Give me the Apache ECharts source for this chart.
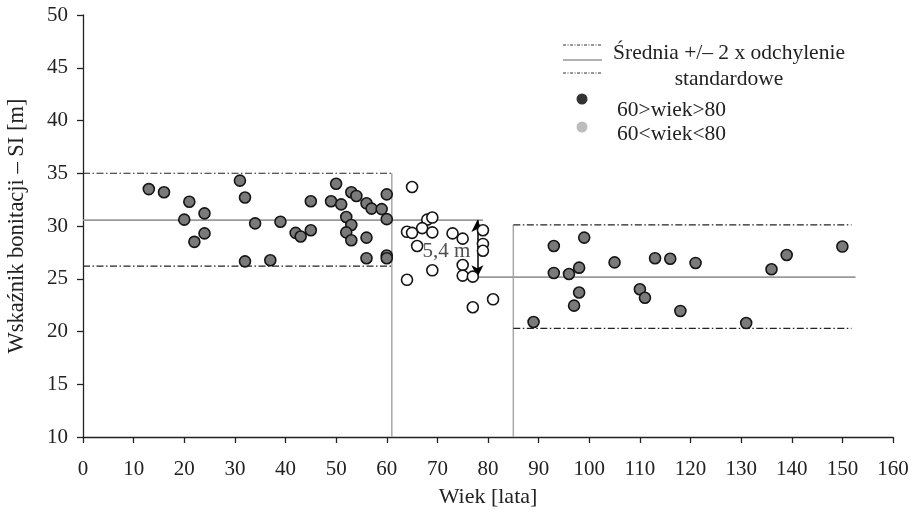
<!DOCTYPE html>
<html>
<head>
<meta charset="utf-8">
<script src="https://cdn.jsdelivr.net/npm/echarts@6/dist/echarts.min.js"></script>
<style>html,body{margin:0;padding:0;background:#fff}#c{width:914px;height:515px}</style>
</head>
<body>
<div id="c"></div>
<script>
// ---- data ----
const darkLeft = [[13,33.5],[16,33.2],[21,32.3],[20,30.6],[24,31.2],[22,28.5],[24,29.3],[31,34.3],[32,32.7],[34,30.25],[32,26.65],[37,26.75],[39,30.4],[42,29.35],[43,29.0],[45,29.6],[45,32.35],[49,32.35],[50,34.0],[51,32.05],[53,33.2],[54,32.85],[52,30.85],[53,30.1],[52,29.4],[53,28.65],[56,32.15],[57,31.65],[59,31.6],[60,33.0],[60,30.65],[56,28.9],[56,26.95],[60,27.2],[60,26.95]];
const darkRight = [[89,20.9],[93,28.1],[93,25.55],[96,25.45],[98,26.05],[99,28.9],[98,23.7],[97,22.45],[105,26.55],[110,24.0],[111,23.2],[113,26.95],[116,26.9],[118,21.95],[121,26.5],[131,20.8],[136,25.9],[139,27.25],[150,28.05]];
const lightPoints = [[65,33.7],[68,30.6],[69,30.8],[67,29.8],[64,29.45],[65,29.35],[69,29.4],[66,28.1],[69,25.8],[64,24.9],[73,29.3],[75,28.8],[75,26.3],[75,25.3],[77,25.2],[79,29.6],[79,28.3],[79,27.65],[77,22.3],[81,23.05]];
const seriesNames = ['60>wiek>80','60<wiek<80'];
const splitAges = [61, 85];
const leftStats = {mean:30.56, upper:35.0, lower:26.2, from:0, meanTo:79};
const rightStats = {mean:25.15, upper:30.1, lower:20.3, meanFrom:78, meanTo:152.6, sdTo:151.8};
const arrowAge = 77.9;
const diffLabel = '5,4 m';
const diffLabelPos = [71.8, 27.55];
const xTickValues = {min:0, max:160, step:10};
const yTickValues = {min:10, max:50, step:5};
const xTitle = 'Wiek [lata]';
const yTitle = 'Wskaźnik bonitacji – SI [m]';
const legendLines = ['Średnia +/– 2 x odchylenie', 'standardowe'];

// ---- chart ----
const FONT = '"Liberation Serif", "DejaVu Serif", serif';
const chart = echarts.init(document.getElementById('c'), null, {renderer:'canvas'});
const dashDot = {color:'#222', width:1.2, type:[7,2.5,1.5,2.5]};
const meanStyle = {color:'#9a9a9a', width:1.6, type:'solid'};
const vertStyle = {color:'#a8a8a8', width:1.5, type:'solid'};
function seg(p1, p2, style, z){
  return {type:'line', data:[p1,p2], showSymbol:false, symbol:'none', silent:true, animation:false,
    lineStyle:style, z:z||1};
}
const series = [
  seg([leftStats.from,leftStats.upper],[splitAges[0],leftStats.upper],dashDot),
  seg([leftStats.from,leftStats.lower],[splitAges[0],leftStats.lower],dashDot),
  seg([leftStats.from,leftStats.mean],[leftStats.meanTo,leftStats.mean],meanStyle),
  seg([splitAges[0],yTickValues.min],[splitAges[0],leftStats.upper],vertStyle),
  seg([splitAges[1],yTickValues.min],[splitAges[1],rightStats.upper],vertStyle),
  seg([rightStats.meanFrom,rightStats.mean],[rightStats.meanTo,rightStats.mean],meanStyle),
  seg([splitAges[1],rightStats.upper],[rightStats.sdTo,rightStats.upper],dashDot),
  seg([splitAges[1],rightStats.lower],[rightStats.sdTo,rightStats.lower],dashDot),
  {type:'line', data:[], silent:true, z:3,
    markLine:{silent:true, symbol:['arrow','arrow'], symbolSize:[9,12], label:{show:false},
      lineStyle:{color:'#000', width:1.5, type:'solid'},
      data:[[{coord:[arrowAge,leftStats.mean]},{coord:[arrowAge,rightStats.mean]}]]}},
  {name:seriesNames[0], type:'scatter', data:darkLeft.concat(darkRight), symbol:'circle', symbolSize:11, z:5,
    itemStyle:{color:'#7a7a7a', borderColor:'#151515', borderWidth:1.6, opacity:1}},
  {name:seriesNames[1], type:'scatter', data:lightPoints, symbol:'circle', symbolSize:11, z:5,
    itemStyle:{color:'#ffffff', borderColor:'#151515', borderWidth:1.6, opacity:1}},
  {type:'scatter', data:[diffLabelPos], symbolSize:0, silent:true, z:6,
    label:{show:true, position:'inside', formatter:diffLabel, fontFamily:FONT, fontSize:21, color:'#222'}}
];
const option = {
  animation:false,
  backgroundColor:'#fff',
  grid:{left:83, right:21, top:15, bottom:78, containLabel:false, outerBoundsMode:'none'},
  xAxis:{type:'value', min:xTickValues.min, max:xTickValues.max, interval:xTickValues.step,
    name:xTitle, nameLocation:'middle', nameGap:49,
    nameTextStyle:{fontFamily:FONT, fontSize:22, color:'#222'},
    axisLine:{lineStyle:{color:'#222', width:1.3}},
    axisTick:{show:true, length:6, lineStyle:{color:'#222', width:1.3}},
    axisLabel:{fontFamily:FONT, fontSize:21, color:'#222', margin:22},
    splitLine:{show:false}},
  yAxis:{type:'value', min:yTickValues.min, max:yTickValues.max, interval:yTickValues.step,
    name:yTitle, nameLocation:'middle', nameGap:54,
    nameTextStyle:{fontFamily:FONT, fontSize:22.5, color:'#222'},
    axisLine:{show:true, lineStyle:{color:'#222', width:1.3}},
    axisTick:{show:true, length:6, lineStyle:{color:'#222', width:1.3}},
    axisLabel:{fontFamily:FONT, fontSize:21, color:'#222', margin:15},
    splitLine:{show:false}},
  graphic:[
    {type:'line', shape:{x1:563,y1:45,x2:602,y2:45}, style:{stroke:'#333', lineWidth:1, lineDash:[3,1.5,1,1.5]}},
    {type:'line', shape:{x1:563,y1:60,x2:602,y2:60}, style:{stroke:'#999', lineWidth:1.5}},
    {type:'line', shape:{x1:563,y1:73,x2:602,y2:73}, style:{stroke:'#333', lineWidth:1, lineDash:[3,1.5,1,1.5]}},
    {type:'text', x:729, y:53, style:{text:legendLines[0], font:'21.5px '+FONT, fill:'#222', align:'center', verticalAlign:'middle'}},
    {type:'text', x:729, y:79, style:{text:legendLines[1], font:'21.5px '+FONT, fill:'#222', align:'center', verticalAlign:'middle'}},
    {type:'circle', shape:{cx:582, cy:99, r:5.5}, style:{fill:'#333'}},
    {type:'circle', shape:{cx:582, cy:127, r:5.5}, style:{fill:'#bdbdbd'}},
    {type:'text', x:617, y:110, style:{text:seriesNames[0], font:'21.5px '+FONT, fill:'#222', align:'left', verticalAlign:'middle'}},
    {type:'text', x:617, y:134, style:{text:seriesNames[1], font:'21.5px '+FONT, fill:'#222', align:'left', verticalAlign:'middle'}}
  ],
  series:series
};
chart.setOption(option);
</script>
</body>
</html>
